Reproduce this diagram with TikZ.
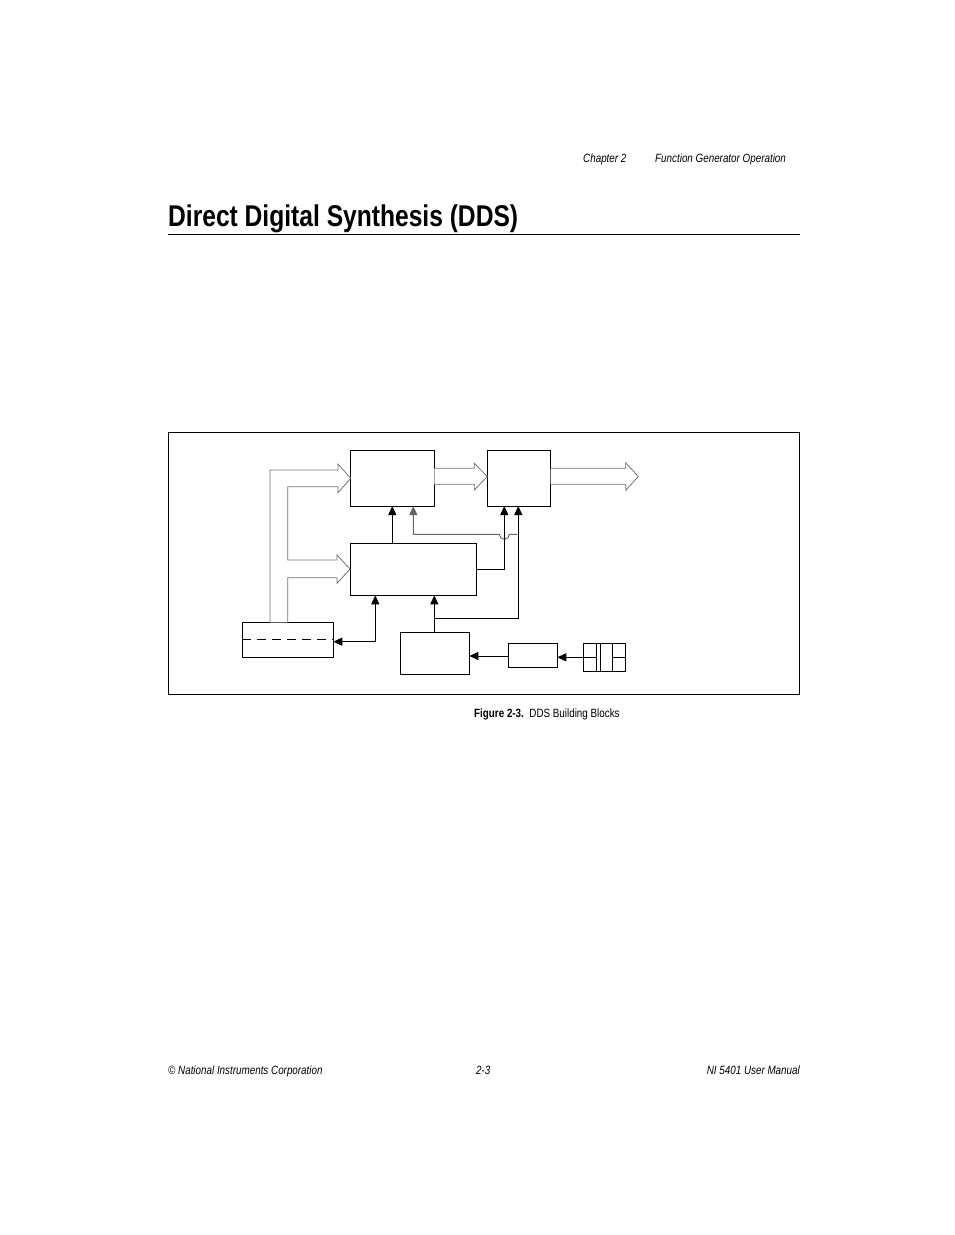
\documentclass[tikz,border=0pt]{standalone}
\usepackage{fontspec}
\setmainfont{Liberation Sans}[FakeStretch=0.82]
\usetikzlibrary{arrows.meta}
\begin{document}
\begin{tikzpicture}[x=1pt,y=-1pt,
  blk/.style={draw,line width=0.9pt},
  sig/.style={line width=0.9pt},
  arr/.style={sig,-{Triangle[length=9pt,width=8pt]}},
  bus/.style={draw=black!55,line width=0.8pt,fill=white},
  txt/.style={inner sep=0pt,anchor=base west}]
\useasboundingbox (0,0) rectangle (954,1235);
% header
\node[txt,font=\fontsize{12}{14}\selectfont\itshape] (hd1) at (583,162) {Chapter 2};
\node[txt,font=\fontsize{12}{14}\selectfont\itshape] (hd2) at (655,162) {Function Generator Operation};
\node[txt,font=\fontsize{30}{34}\selectfont\bfseries] (ttl) at (168,226) {Direct Digital Synthesis (DDS)};
\draw[line width=0.8pt] (168,234.5) -- (800,234.5);
% frame
\draw[line width=0.8pt] (168.5,432.5) rectangle (799.5,694);
% boxes
\draw[blk] (350.7,450) rectangle (434.3,506) coordinate (Abr);
\coordinate (A) at (350.7,450);
\draw[blk] (487.3,450) rectangle (550.7,506);
\draw[blk] (350,543.3) rectangle (476.7,595.3);
\draw[blk] (242.3,622.3) rectangle (333.3,657.3);
\draw[dashed,dash pattern=on 9pt off 6pt,line width=0.8pt] (242.3,639.3) -- (333.3,639.3);
\draw[blk] (400.7,632.3) rectangle (469.3,674.3);
\draw[blk] (508.3,643) rectangle (557.3,667.3);
\draw[blk] (583.3,643) rectangle (625.7,671.3);
\draw[sig] (596.7,643) -- (596.7,671.3) (600.7,643) -- (600.7,671.3) (612.3,643) -- (612.3,671.3);
\draw[sig] (583.3,657.3) -- (596.7,657.3) (612.3,657.3) -- (625.7,657.3);
% buses
\draw[bus] (270,622.3) -- (270,470) -- (338,470) -- (338,464) -- (350.7,478.3) -- (338,492.7) -- (338,486.7) -- (287.7,486.7) -- (287.7,560) -- (337,560) -- (337,555) -- (350,569) -- (337,583.3) -- (337,577.7) -- (287.7,577.7) -- (287.7,622.3);
\draw[bus] (434.3,468.3) -- (474.3,468.3) -- (474.3,463.3) -- (487.3,476.5) -- (474.3,490) -- (474.3,484.3) -- (434.3,484.3);
\draw[bus] (550.7,468.3) -- (625.7,468.3) -- (625.7,462.7) -- (638.3,476.5) -- (625.7,490.3) -- (625.7,484.3) -- (550.7,484.3);
% signals
\draw[arr] (392.3,543.3) -- (392.3,506);
\draw[arr,draw=black!60] (517.3,534.3) -- (509.3,534.3) arc[start angle=0,end angle=180,radius=5] -- (413.3,534.3) -- (413.3,506);
\draw[arr] (476.7,569) -- (504.3,569) -- (504.3,506);
\draw[arr] (434.3,632.3) -- (434.3,595.3);
\draw[arr] (434.3,618.3) -- (518.3,618.3) -- (518.3,506);
\draw[sig,{Triangle[length=9pt,width=8pt]}-{Triangle[length=9pt,width=8pt]}] (333.3,641.7) -- (375.3,641.7) -- (375.3,595.3);
\draw[arr] (508.3,656) -- (469.3,656);
\draw[arr] (583.3,657.3) -- (557.3,657.3);
% caption
\node[txt,font=\fontsize{12}{14}\selectfont] (cap) at (474,717) {\textbf{Figure 2-3.}\ \ DDS Building Blocks};
% footer
\node[txt,font=\fontsize{12}{14}\selectfont\itshape] (f1) at (168,1074) {© National Instruments Corporation};
\node[txt,font=\fontsize{12}{14}\selectfont\itshape] (f2) at (476,1074) {2-3};
\node[txt,font=\fontsize{12}{14}\selectfont\itshape,anchor=base east] (f3) at (800,1074) {NI 5401 User Manual};
\end{tikzpicture}
\end{document}
